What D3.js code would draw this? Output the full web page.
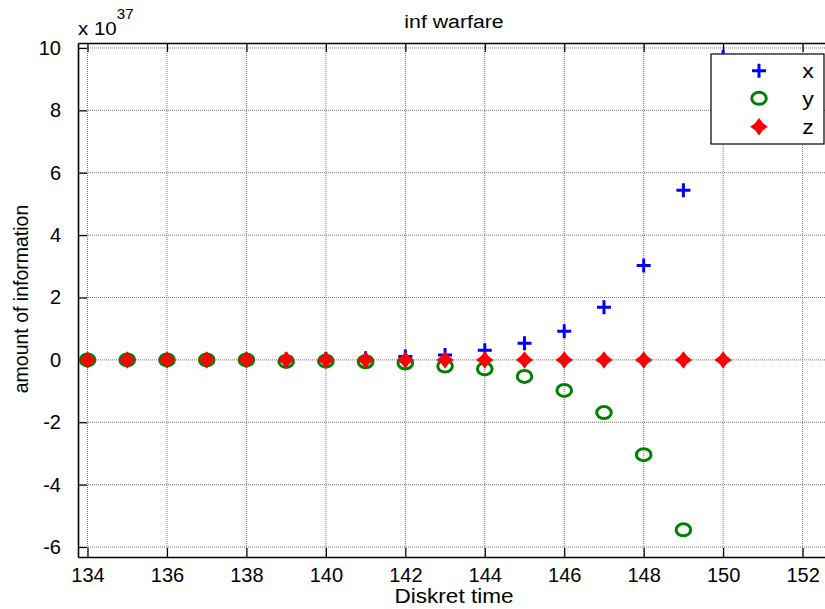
<!DOCTYPE html>
<html>
<head>
<meta charset="utf-8">
<script src="https://cdn.jsdelivr.net/npm/d3@7"></script>
<style>
  body { margin: 0; background: #fff; }
  text { font-family: "Liberation Sans", Arial, sans-serif; fill: #000; }
</style>
</head>
<body>
<div id="chart"></div>
<script>
// data (values in units of 1e37)
var times = [134, 135, 136, 137, 138, 139, 140, 141, 142, 143, 144, 145, 146, 147, 148, 149, 150];
var xVals = [0, 0, 0, 0.005, 0.01, 0.015, 0.03, 0.05, 0.11, 0.16, 0.31, 0.53, 0.92, 1.69, 3.03, 5.44, 9.72];
var yVals = [0, 0, 0, 0, 0, -0.05, -0.04, -0.06, -0.1, -0.2, -0.29, -0.53, -0.98, -1.69, -3.04, -5.45, -9.7];
var zVals = [0, 0, 0, 0, 0, 0, 0, 0, 0, 0, 0, 0, 0, 0, 0, 0, 0];
var xTicks = [134, 136, 138, 140, 142, 144, 146, 148, 150, 152];
var yTicks = [-6, -4, -2, 0, 2, 4, 6, 8, 10];
var legendNames = ["x", "y", "z"];

function draw() {
  var W = 825, H = 609;
  var m = {left: 78, right: 830, top: 43, bottom: 557};

  var svg = d3.select("#chart").append("svg")
    .attr("width", W).attr("height", H);

  var sx = d3.scaleLinear().domain([133.76, 152.69]).range([m.left, m.right]);
  var sy = d3.scaleLinear().domain([-6.32, 10.16]).range([m.bottom, m.top]);

  svg.append("defs").append("clipPath").attr("id", "clip")
    .append("rect").attr("x", m.left).attr("y", m.top)
    .attr("width", m.right - m.left).attr("height", m.bottom - m.top);

  // grid
  var grid = svg.append("g").attr("stroke", "#777").attr("stroke-dasharray", "1,1").attr("stroke-width", 1);
  grid.selectAll(".gx").data(xTicks).enter().append("line")
    .attr("x1", function(d){ return sx(d); }).attr("x2", function(d){ return sx(d); })
    .attr("y1", m.top).attr("y2", m.bottom);
  grid.selectAll(".gy").data(yTicks).enter().append("line")
    .attr("y1", function(d){ return sy(d); }).attr("y2", function(d){ return sy(d); })
    .attr("x1", m.left).attr("x2", m.right);

  // axes, ticks pointing inward, plain hyphen minus like matlab
  var fmt = function(d){ return String(d); };
  var axB = svg.append("g").attr("transform", "translate(0," + m.bottom + ")")
    .call(d3.axisBottom(sx).tickValues(xTicks).tickSizeInner(-9).tickSizeOuter(0).tickPadding(15).tickFormat(fmt));
  var axT = svg.append("g").attr("transform", "translate(0," + m.top + ")")
    .call(d3.axisTop(sx).tickValues(xTicks).tickSizeInner(-9).tickSizeOuter(0).tickFormat(""));
  var axL = svg.append("g").attr("transform", "translate(" + m.left + ",0)")
    .call(d3.axisLeft(sy).tickValues(yTicks).tickSizeInner(-9).tickSizeOuter(0).tickPadding(17).tickFormat(fmt));
  [axB, axT, axL].forEach(function(a){
    a.select(".domain").attr("stroke", "#000").attr("stroke-width", 1.6);
    a.selectAll(".tick line").attr("stroke", "#000").attr("stroke-width", 1.2);
    a.selectAll(".tick text").attr("font-size", 20).attr("fill", "#000")
      .style("font-family", "Liberation Sans, Arial, sans-serif");
  });
  axB.selectAll(".tick text").attr("dy", "0.5em");

  // exponent label
  var ex = svg.append("text").attr("transform", "translate(78,35) scale(1.08,1)").attr("font-size", 19);
  ex.append("tspan").text("x 10");
  ex.append("tspan").attr("dy", -16).attr("font-size", 14).text("37");

  svg.append("text").attr("transform", "translate(454,28) scale(1.12,1)").attr("text-anchor", "middle")
    .attr("font-size", 19).text("inf warfare");
  svg.append("text").attr("transform", "translate(454,603) scale(1.13,1)").attr("text-anchor", "middle")
    .attr("font-size", 20).text("Diskret time");
  svg.append("text").attr("transform", "translate(28,299) rotate(-90)").attr("text-anchor", "middle")
    .attr("font-size", 19.5).text("amount of information");

  // markers
  function plusPath(s){ return "M" + (-s) + ",0H" + s + "M0," + (-s) + "V" + s; }
  var starPath = "M0,-7.5L3.2,-3.2L7.5,0L3.2,3.2L0,7.5L-3.2,3.2L-7.5,0L-3.2,-3.2Z";

  var plot = svg.append("g").attr("clip-path", "url(#clip)");
  var pts = times.map(function(t, i){ return {t: t, x: xVals[i], y: yVals[i], z: zVals[i]}; });

  plot.selectAll(".px").data(pts).enter().append("path")
    .attr("transform", function(d){ return "translate(" + sx(d.t) + "," + sy(d.x) + ")"; })
    .attr("d", plusPath(7)).attr("stroke", "#0000ff").attr("stroke-width", 3).attr("fill", "none");
  plot.selectAll(".py").data(pts).enter().append("ellipse")
    .attr("cx", function(d){ return sx(d.t); }).attr("cy", function(d){ return sy(d.y); })
    .attr("rx", 7.3).attr("ry", 6).attr("stroke", "#008000").attr("stroke-width", 3).attr("fill", "none");
  plot.selectAll(".pz").data(pts).enter().append("path")
    .attr("transform", function(d){ return "translate(" + sx(d.t) + "," + sy(d.z) + ")"; })
    .attr("d", starPath).attr("fill", "#ff0000").attr("stroke", "#ff0000").attr("stroke-width", 1.5);

  // legend
  var lg = svg.append("g");
  lg.append("rect").attr("x", 711).attr("y", 54).attr("width", 113).attr("height", 90)
    .attr("fill", "#fff").attr("stroke", "#000").attr("stroke-width", 1.2);
  var rows = [70.7, 98.3, 126.7];
  legendNames.forEach(function(n, i){
    var g = lg.append("g").attr("transform", "translate(759," + rows[i] + ")");
    if (i === 0) g.append("path").attr("d", plusPath(7)).attr("stroke", "#0000ff").attr("stroke-width", 3).attr("fill", "none");
    if (i === 1) g.append("ellipse").attr("rx", 7.3).attr("ry", 6).attr("stroke", "#008000").attr("stroke-width", 3).attr("fill", "none");
    if (i === 2) g.append("path").attr("d", starPath).attr("fill", "#ff0000").attr("stroke", "#ff0000").attr("stroke-width", 1.5);
    lg.append("text").attr("transform", "translate(808," + rows[i] + ") scale(1.1,1)").attr("dy", "0.35em")
      .attr("text-anchor", "middle").attr("font-size", 21).text(n);
  });
}

draw();
</script>
</body>
</html>
